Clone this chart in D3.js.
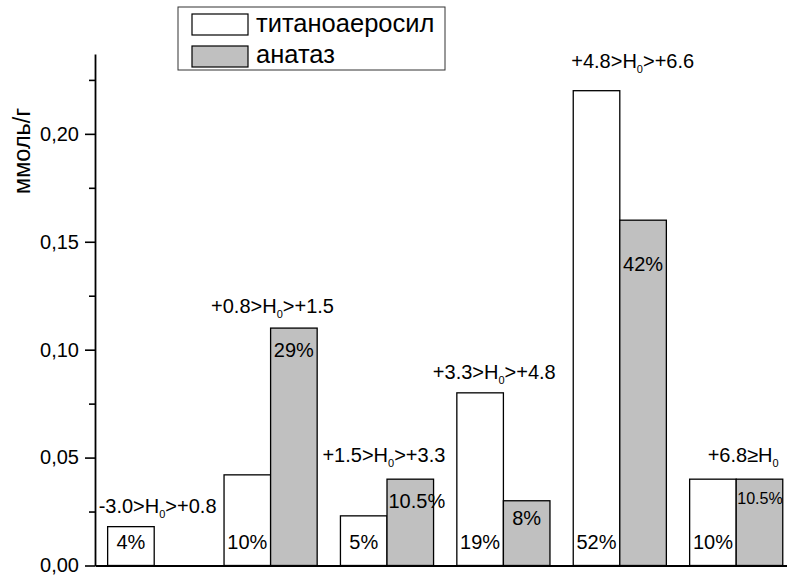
<!DOCTYPE html>
<html>
<head>
<meta charset="utf-8">
<script src="https://cdn.jsdelivr.net/npm/d3@7/dist/d3.min.js"></script>
<style>
  html, body { margin: 0; padding: 0; background: #fff; }
  svg { display: block; }
  text { font-family: "Liberation Sans", Arial, sans-serif; fill: #000; }
</style>
</head>
<body>
<svg id="chart" width="787" height="577"></svg>
<script>
// Acid-site ranges (Hammett function H0) and amounts of sites, mmol/g
const rangeLow  = ["-3.0", "+0.8", "+1.5", "+3.3", "+4.8", "+6.8"];
const rangeHigh = ["+0.8", "+1.5", "+3.3", "+4.8", "+6.6", null];
const seriesNames = ["титаноаеросил", "анатаз"];
const titanoaerosil = [0.018, 0.042, 0.023, 0.080, 0.220, 0.040];
const anatase       = [null,  0.110, 0.040, 0.030, 0.160, 0.040];
const titanoaerosilShare = ["4%", "10%", "5%", "19%", "52%", "10%"];
const anataseShare       = [null, "29%", "10.5%", "8%", "42%", "10.5%"];
const yTicks = [0, 0.05, 0.10, 0.15, 0.20];
const yMinorTicks = [0.025, 0.075, 0.125, 0.175, 0.225];
const yTitle = "ммоль/г";

// ---- layout ----
const W = 787, H = 577;
const axisX = 95, baseY = 565.5, topY = 54;
const fontSize = 20;
const fills = ["#ffffff", "#c0c0c0"];
// hand-placed offsets of the range captions: [dx from group start, dy above tallest bar]
const captionShift = [[-9, 14], [-13, 15], [-18, 17], [-24, 14], [-2, 23], [18, 17]];
// depth of the anatase share labels below the bar top
const anataseLabelDepth = [0, 29, 29, 24, 51, 25];

const svg = d3.select("#chart");
svg.append("rect").attr("width", W).attr("height", H).attr("fill", "#fff");

const groups = rangeLow.map((d, i) => i);
const x = d3.scaleBand().domain(groups).range([axisX + 1, axisX + 1 + 6 * 116.4])
  .paddingInner(0.2).paddingOuter(0.1);
const xs = d3.scaleBand().domain([0, 1]).range([0, x.bandwidth()]);
const y = d3.scaleLinear().domain([0, 0.237]).range([baseY, topY]);

const values = [titanoaerosil, anatase];
const shares = [titanoaerosilShare, anataseShare];

// bars
const bars = [];
groups.forEach(g => values.forEach((arr, s) => {
  if (arr[g] != null) bars.push({ g, s, v: arr[g], label: shares[s][g] });
}));

svg.append("g").selectAll("rect").data(bars).join("rect")
  .attr("x", d => x(d.g) + xs(d.s))
  .attr("y", d => y(d.v))
  .attr("width", xs.bandwidth())
  .attr("height", d => y(0) - y(d.v))
  .attr("fill", d => fills[d.s])
  .attr("stroke", "#000")
  .attr("stroke-width", 1.3);

// share labels inside the bars
const lab = svg.append("g").selectAll("text").data(bars).join("text")
  .attr("font-size", fontSize)
  .text(d => d.label);
lab.each(function (d) {
  const t = d3.select(this);
  let w = this.getComputedTextLength();
  const left = x(d.g) + xs(d.s);
  const cx = left + xs.bandwidth() / 2;
  let tx = Math.max(left + 1.5, cx - w / 2);
  const ty = d.s === 0 ? y(0) - 16.5 : y(d.v) + anataseLabelDepth[d.g];
  // labels that would run past the right border get a smaller font
  if (tx + w > W - 4) {
    tx = left + 1;
    const fs = Math.floor(fontSize * (W - 4 - tx) / w * 10) / 10;
    t.attr("font-size", fs);
  }
  t.attr("x", tx).attr("y", ty);
});

// range captions above each group
const cap = svg.append("g").selectAll("text").data(groups).join("text")
  .attr("font-size", fontSize)
  .attr("x", g => x(g) + captionShift[g][0])
  .attr("y", g => {
    const top = d3.max(values, arr => arr[g] == null ? 0 : arr[g]);
    return y(top) - captionShift[g][1];
  });
cap.each(function (g) {
  const t = d3.select(this);
  t.append("tspan").text(rangeLow[g] + (rangeHigh[g] == null ? "≥H" : ">H"));
  t.append("tspan").attr("font-size", 11).attr("dy", 5).text("0");
  if (rangeHigh[g] != null) t.append("tspan").attr("dy", -5).text(">" + rangeHigh[g]);
});

// y axis with major and minor ticks
const yAxis = svg.append("g").attr("transform", `translate(${axisX},0)`)
  .call(d3.axisLeft(y).tickValues(yTicks).tickSize(10).tickSizeOuter(0)
    .tickFormat(d => d3.format(".2f")(d).replace(".", ",")));
yAxis.select(".domain").attr("stroke-width", 1.8);
yAxis.selectAll(".tick line").attr("stroke-width", 1.6);
yAxis.selectAll(".tick text")
  .attr("font-size", fontSize).attr("font-family", null)
  .attr("x", -16);
svg.append("g").attr("transform", `translate(${axisX},0)`)
  .call(d3.axisLeft(y).tickValues(yMinorTicks).tickSize(6).tickFormat(""))
  .call(g => g.select(".domain").remove())
  .selectAll(".tick line").attr("stroke-width", 1.6);

// x axis baseline
svg.append("g").attr("transform", `translate(0,${baseY})`)
  .call(d3.axisBottom(d3.scaleLinear().domain([0, 1]).range([axisX, W])).tickValues([]).tickSizeOuter(0))
  .select(".domain").attr("stroke-width", 1.8);

// y axis title
svg.append("text")
  .attr("transform", `translate(30,151) rotate(-90)`)
  .attr("text-anchor", "middle")
  .attr("font-size", 23.5)
  .text(yTitle);

// legend
const lg = svg.append("g");
lg.append("rect").attr("x", 178).attr("y", 7).attr("width", 267).attr("height", 63)
  .attr("fill", "#fff").attr("stroke", "#333").attr("stroke-width", 1);
seriesNames.forEach((name, i) => {
  lg.append("rect").attr("x", 192).attr("y", 14 + i * 32).attr("width", 56).attr("height", 21)
    .attr("fill", fills[i]).attr("stroke", "#000").attr("stroke-width", 1.2);
  lg.append("text").attr("font-size", 25.5)
    .attr("x", 256).attr("y", 32 + i * 31)
    .text(name);
});
</script>
</body>
</html>
